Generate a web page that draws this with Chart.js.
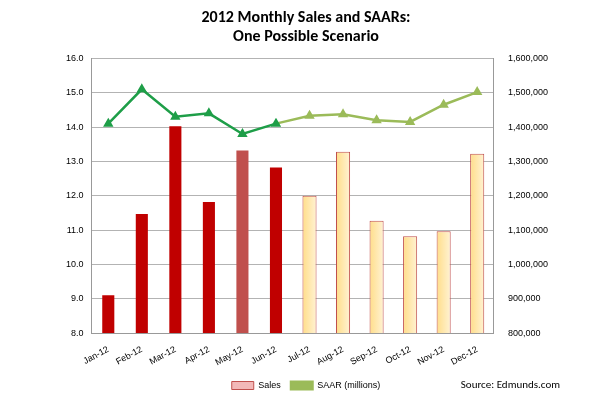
<!DOCTYPE html>
<html><head><meta charset="utf-8">
<script src="https://cdn.jsdelivr.net/npm/chart.js@4/dist/chart.umd.min.js"></script>
<style>
body{margin:0;background:#fff;font-family:Calibri,"Liberation Sans",Arial,sans-serif}
#wrap{position:relative;width:600px;height:400px}
#src{position:absolute;right:40px;top:378px;font-size:11px;color:#000}
</style></head><body>
<div id="wrap"><canvas id="c" width="600" height="400"></canvas><div id="src">Source: Edmunds.com</div></div>
<script>
const months = ['Jan-12','Feb-12','Mar-12','Apr-12','May-12','Jun-12','Jul-12','Aug-12','Sep-12','Oct-12','Nov-12','Dec-12'];
const sales = [913000,1150000,1405000,1185000,1335000,1285000,1200000,1328000,1127000,1082000,1097000,1322000];
const saar = [14.1,15.1,14.3,14.4,13.8,14.1,14.33,14.37,14.2,14.15,14.65,15.02];

const darkGreen = '#1e9e48', lightGreen = '#9bbb59';
const barFill = (ctx) => {
  const i = ctx.dataIndex;
  if (i < 4 || i === 5) return '#c00000';
  if (i === 4) return '#c0504d';
  const xs = ctx.chart.scales.x;
  if (!xs || !ctx.chart.chartArea) return '#ffe6a6';
  const cx = xs.getPixelForValue(i);
  const g = ctx.chart.ctx.createLinearGradient(cx - 10, 0, cx + 10, 0);
  g.addColorStop(0, '#ffd97a');
  g.addColorStop(1, '#fff7e3');
  return g;
};

new Chart(document.getElementById('c'), {
  data: {
    labels: months,
    datasets: [
      {
        type: 'line', label: 'SAAR (millions)', data: saar, yAxisID: 'y', order: 0,
        borderColor: lightGreen, borderWidth: 2.5, pointStyle: 'triangle', pointRadius: 3.5,
        pointBackgroundColor: saar.map((v, i) => (i < 6 ? darkGreen : lightGreen)),
        pointBorderColor: saar.map((v, i) => (i < 6 ? darkGreen : lightGreen)),
        segment: { borderColor: (s) => (s.p0DataIndex < 5 ? darkGreen : lightGreen) },
      },
      {
        type: 'bar', label: 'Sales', data: sales, yAxisID: 'y1', order: 1,
        backgroundColor: barFill,
        borderColor: sales.map((v, i) => (i < 6 ? 'rgba(0,0,0,0)' : '#c0504d')),
        borderWidth: 1, barPercentage: 0.42, categoryPercentage: 1,
      },
    ],
  },
  options: {
    responsive: false, animation: false,
    layout: { padding: { left: 58, right: 46, top: 0, bottom: 0 } },
    plugins: {
      title: { display: true, text: ['2012 Monthly Sales and SAARs:', 'One Possible Scenario'], color: '#000',
        font: { size: 16, weight: 'bold', family: 'Calibri, "Liberation Sans", Arial' }, padding: { top: 8, bottom: 12 } },
      legend: {
        position: 'bottom', reverse: true,
        labels: {
          font: { size: 9 }, color: '#000', boxWidth: 22, boxHeight: 8,
          generateLabels: (chart) => [
            { text: 'SAAR (millions)', datasetIndex: 0, fillStyle: lightGreen, strokeStyle: lightGreen, lineWidth: 2 },
            { text: 'Sales', datasetIndex: 1, fillStyle: '#f2b8b8', strokeStyle: '#c0504d', lineWidth: 1 },
          ],
        },
      },
      tooltip: { enabled: false },
    },
    scales: {
      x: { grid: { display: false }, border: { color: '#999' }, ticks: { color: '#000', font: { size: 9 } } },
      y: { position: 'left', min: 8, max: 16, grid: { color: '#b3b3b3', drawTicks: false }, border: { color: '#999' },
        ticks: { stepSize: 1, color: '#000', font: { size: 9 }, padding: 8, callback: (v) => v.toFixed(1) } },
      y1: { position: 'right', min: 800000, max: 1600000, grid: { display: false }, border: { color: '#999' },
        ticks: { stepSize: 100000, color: '#000', font: { size: 9 }, padding: 6, callback: (v) => v.toLocaleString('en-US') } },
    },
  },
});
</script></body></html>
